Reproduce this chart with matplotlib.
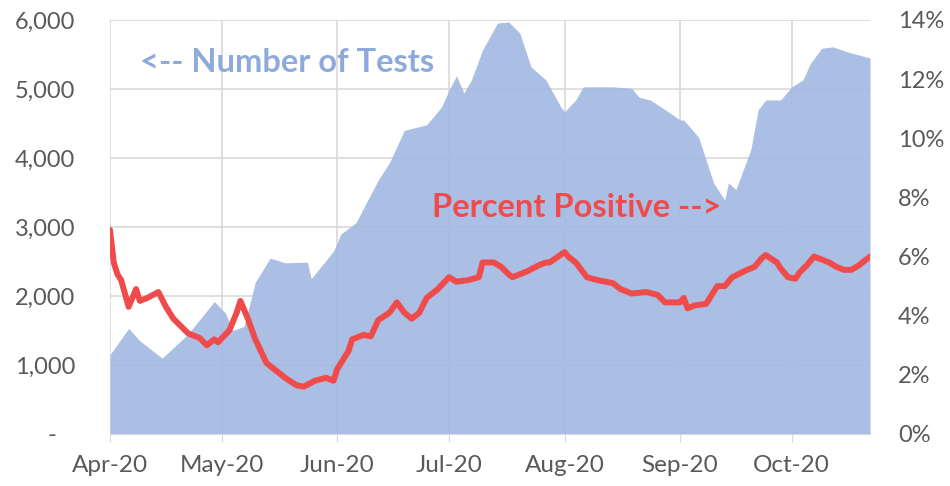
import matplotlib
matplotlib.use("Agg")
import matplotlib.pyplot as plt
import matplotlib.dates as mdates
from matplotlib.ticker import FuncFormatter
import pandas as pd

# Number of tests (7-day average), left axis
test_dates = ["2020-04-01", "2020-04-06", "2020-04-09", "2020-04-15", "2020-04-22",
              "2020-04-29", "2020-05-02", "2020-05-04", "2020-05-07", "2020-05-10",
              "2020-05-14", "2020-05-18", "2020-05-24", "2020-05-25", "2020-05-31",
              "2020-06-02", "2020-06-06", "2020-06-12", "2020-06-15", "2020-06-19",
              "2020-06-25", "2020-06-29", "2020-07-01", "2020-07-03", "2020-07-05",
              "2020-07-07", "2020-07-10", "2020-07-14", "2020-07-17", "2020-07-20",
              "2020-07-23", "2020-07-27", "2020-07-31", "2020-08-01", "2020-08-04",
              "2020-08-06", "2020-08-14", "2020-08-19", "2020-08-21", "2020-08-24",
              "2020-08-28", "2020-09-01", "2020-09-02", "2020-09-06", "2020-09-08",
              "2020-09-10", "2020-09-13", "2020-09-14", "2020-09-16", "2020-09-20",
              "2020-09-22", "2020-09-24", "2020-09-28", "2020-10-01", "2020-10-04",
              "2020-10-06", "2020-10-09", "2020-10-12", "2020-10-17", "2020-10-22"]
tests = [1150, 1530, 1350, 1100, 1450,
         1920, 1750, 1500, 1560, 2200,
         2550, 2480, 2490, 2250, 2650,
         2900, 3060, 3680, 3930, 4400,
         4480, 4740, 4985, 5190, 4940,
         5130, 5565, 5955, 5970, 5810,
         5320, 5130, 4740, 4670, 4840,
         5030, 5030, 5010, 4880, 4840,
         4700, 4550, 4550, 4300, 3970,
         3640, 3390, 3640, 3540, 4120,
         4700, 4840, 4840, 5030, 5130,
         5370, 5590, 5610, 5520, 5450]

# Percent positive, right axis
pct_dates = ["2020-04-01", "2020-04-02", "2020-04-03", "2020-04-04", "2020-04-06",
             "2020-04-08", "2020-04-09", "2020-04-11", "2020-04-14", "2020-04-16",
             "2020-04-18", "2020-04-22", "2020-04-25", "2020-04-27", "2020-04-29",
             "2020-04-30", "2020-05-03", "2020-05-05", "2020-05-06", "2020-05-08",
             "2020-05-10", "2020-05-13", "2020-05-15", "2020-05-18", "2020-05-21",
             "2020-05-23", "2020-05-26", "2020-05-29", "2020-05-31", "2020-06-01",
             "2020-06-04", "2020-06-05", "2020-06-08", "2020-06-10", "2020-06-12",
             "2020-06-15", "2020-06-17", "2020-06-19", "2020-06-21", "2020-06-23",
             "2020-06-25", "2020-06-28", "2020-07-01", "2020-07-03", "2020-07-06",
             "2020-07-09", "2020-07-10", "2020-07-13", "2020-07-15", "2020-07-17",
             "2020-07-18", "2020-07-22", "2020-07-25", "2020-07-27", "2020-07-28",
             "2020-08-01", "2020-08-02", "2020-08-04", "2020-08-07", "2020-08-10",
             "2020-08-14", "2020-08-16", "2020-08-19", "2020-08-23", "2020-08-26",
             "2020-08-28", "2020-09-01", "2020-09-02", "2020-09-03", "2020-09-05",
             "2020-09-08", "2020-09-09", "2020-09-11", "2020-09-13", "2020-09-15",
             "2020-09-19", "2020-09-21", "2020-09-23", "2020-09-24", "2020-09-27",
             "2020-09-28", "2020-09-30", "2020-10-02", "2020-10-03", "2020-10-05",
             "2020-10-07", "2020-10-09", "2020-10-11", "2020-10-13", "2020-10-15",
             "2020-10-17", "2020-10-19", "2020-10-22"]
pct_positive = [6.9, 5.8, 5.4, 5.2, 4.3,
                4.9, 4.5, 4.6, 4.8, 4.3,
                3.9, 3.4, 3.25, 3.0, 3.2,
                3.1, 3.5, 4.1, 4.5, 3.9,
                3.2, 2.4, 2.2, 1.9, 1.65,
                1.6, 1.8, 1.9, 1.8, 2.2,
                2.8, 3.2, 3.35, 3.3, 3.85,
                4.1, 4.45, 4.1, 3.9, 4.1,
                4.6, 4.9, 5.3, 5.15, 5.2,
                5.3, 5.8, 5.8, 5.65, 5.4,
                5.3, 5.5, 5.7, 5.8, 5.8,
                6.15, 6.0, 5.8, 5.3, 5.2,
                5.1, 4.9, 4.75, 4.8, 4.7,
                4.45, 4.45, 4.6, 4.25, 4.35,
                4.4, 4.6, 5.0, 5.0, 5.3,
                5.55, 5.65, 5.95, 6.05, 5.8,
                5.6, 5.3, 5.25, 5.45, 5.7,
                6.0, 5.9, 5.8, 5.65, 5.55,
                5.55, 5.7, 6.0]

plt.rcParams['font.family'] = ['Lato', 'DejaVu Sans']

tx = pd.to_datetime(test_dates)
px = pd.to_datetime(pct_dates)

fig = plt.figure(figsize=(9.5, 4.86), dpi=100)
ax = fig.add_axes([0.1158, 0.107, 0.80, 0.852])
ax2 = ax.twinx()

grid_col = '#d9d9d9'
text_col = '#595959'

ax.fill_between(tx, tests, 0, color='#a4b9e2', lw=0, alpha=0.92, zorder=2)
ax.set_ylim(0, 6000)
ax.set_xlim(pd.Timestamp("2020-04-01"), pd.Timestamp("2020-10-22"))
ax.set_yticks(range(0, 6001, 1000))
ax.yaxis.set_major_formatter(FuncFormatter(lambda v, p: "-   " if v == 0 else f"{int(v):,}"))
ax.xaxis.set_major_locator(mdates.MonthLocator())
ax.xaxis.set_major_formatter(mdates.DateFormatter("%b-%y"))
ax.grid(True, color=grid_col, lw=1.2, zorder=1)
ax.set_axisbelow(True)
for s in ['top', 'right', 'left']:
    ax.spines[s].set_visible(False)
ax.spines['bottom'].set_color(grid_col)
ax.tick_params(axis='y', length=0, pad=25, labelsize=17, labelcolor=text_col)
ax.tick_params(axis='x', length=6, color=grid_col, pad=9, labelsize=17.5, labelcolor=text_col)

ax2.plot(px, pct_positive, color='#f04b4b', lw=4.3, solid_capstyle='round', zorder=3)
ax2.set_ylim(0, 14)
ax2.set_yticks(range(0, 15, 2))
ax2.yaxis.set_major_formatter(FuncFormatter(lambda v, p: f"{int(v)}%"))
for s in ax2.spines.values():
    s.set_visible(False)
ax2.tick_params(axis='y', length=0, pad=20, labelsize=17, labelcolor=text_col)

ax.text(0.04, 0.897, "<-- Number of Tests", transform=ax.transAxes,
        color='#8eaadb', fontsize=23.5, fontweight='bold', va='center', ha='left', zorder=4)
ax.text(0.424, 0.546, "Percent Positive -->", transform=ax.transAxes,
        color='#f04b4b', fontsize=23.5, fontweight='bold', va='center', ha='left', zorder=4)

fig.savefig("out.png", dpi=100)
